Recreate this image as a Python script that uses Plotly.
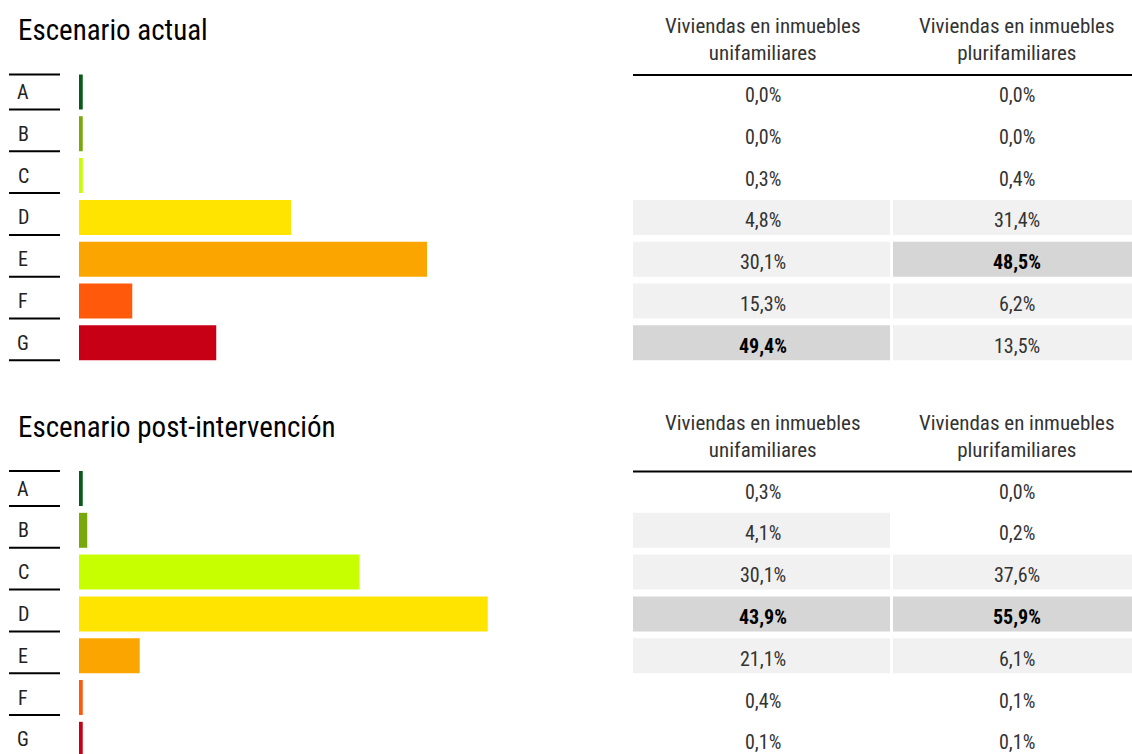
import plotly.graph_objects as go

W, H = 1132, 754
OFF = 0  # body margin removed by post_script below
FONT = "Liberation Sans Narrow, Roboto Condensed, Arial Narrow, Liberation Sans, sans-serif"

# ---------------- data ----------------
cats = ["A", "B", "C", "D", "E", "F", "G"]
bar_colors = ["#0b5a1c", "#79a80d", "#c8ff00", "#ffe400", "#fba600", "#ff5a0c", "#c80016"]

# bar lengths (share of dwellings, %)
actual_total = [0.5, 0.5, 0.5, 28.3, 46.4, 7.1, 18.3]
post_total = [0.5, 1.1, 37.4, 54.5, 8.1, 0.5, 0.5]

# table values (%)
actual_uni = [0.0, 0.0, 0.3, 4.8, 30.1, 15.3, 49.4]
actual_pluri = [0.0, 0.0, 0.4, 31.4, 48.5, 6.2, 13.5]
post_uni = [0.3, 4.1, 30.1, 43.9, 21.1, 0.4, 0.1]
post_pluri = [0.0, 0.2, 37.6, 55.9, 6.1, 0.1, 0.1]

col_headers = ["Viviendas en inmuebles<br>unifamiliares",
               "Viviendas en inmuebles<br>plurifamiliares"]
titles = ["Escenario actual", "Escenario post-intervención"]

# ---------------- layout helpers (window pixels -> paper) ----------------
def fx(px):
    return (px - OFF) / W

def fy(py):
    return 1 - (py - OFF) / H

PITCH = 41.8          # px per row
BAR_W = 0.837         # bar thickness in category units
SHIFT = 396.5         # vertical offset of the second panel
TOP0 = 71.1           # top of first panel's category band
CELL_W = 257 / 260    # cell width in column units (leaves a small gap)
TABLE_UNIT = 260      # px per column unit
COL_TEXT_X = [0.5, 1.475]

def fmt(v):
    return f"{v:.1f}".replace(".", ",") + "%"

fig = go.Figure()

panels = [
    dict(total=actual_total, uni=actual_uni, pluri=actual_pluri, xa="x", ya="y", xt="x3", yt="y3"),
    dict(total=post_total, uni=post_uni, pluri=post_pluri, xa="x2", ya="y2", xt="x4", yt="y4"),
]

shapes = []
annotations = []

for i, p in enumerate(panels):
    # bars
    fig.add_trace(go.Bar(
        x=p["total"], y=cats, orientation="h", width=BAR_W,
        marker=dict(color=bar_colors, line=dict(width=0)),
        xaxis=p["xa"], yaxis=p["ya"], showlegend=False, hoverinfo="skip"))

    # table cells
    for c, vals in enumerate([p["uni"], p["pluri"]]):
        mx = max(vals)
        fills = []
        for k, v in enumerate(vals):
            if v == mx:
                fills.append("#d6d6d6")
                txt, col = "<b>" + fmt(v) + "</b>", "#000000"
            elif v >= 1:
                fills.append("#f1f1f1")
                txt, col = fmt(v), "#333333"
            else:
                fills.append("rgba(0,0,0,0)")
                txt, col = fmt(v), "#333333"
            annotations.append(dict(xref=p["xt"], yref=p["yt"], x=COL_TEXT_X[c], y=cats[k],
                                    text=txt, showarrow=False, xanchor="center",
                                    yanchor="middle", yshift=-3,
                                    font=dict(family=FONT, size=20, color=col)))
        fig.add_trace(go.Bar(
            x=[CELL_W] * len(cats), base=[c] * len(cats), y=cats, orientation="h",
            width=BAR_W, marker=dict(color=fills, line=dict(width=0)),
            xaxis=p["xt"], yaxis=p["yt"], showlegend=False, hoverinfo="skip"))

    yref = p["ya"]
    # left label rules
    positions = [-BAR_W / 2] + [k + BAR_W / 2 for k in range(len(cats))]
    for pos in positions:
        shapes.append(dict(type="line", xref="paper", yref=yref,
                           x0=fx(9), x1=fx(60), y0=pos, y1=pos,
                           line=dict(color="#000000", width=2)))
    for k, cat in enumerate(cats):
        annotations.append(dict(xref="paper", yref=yref, x=fx(23), y=k, text=cat,
                                showarrow=False, xanchor="center", yanchor="middle",
                                font=dict(family=FONT, size=20, color="#222222")))

    off = i * SHIFT
    # title
    annotations.append(dict(xref="paper", yref="paper", x=fx(16), y=fy(30 + off),
                            text=titles[i], showarrow=False, xanchor="left", yanchor="middle",
                            font=dict(family=FONT, size=29, color="#000000")))
    # headers
    for c, htxt in enumerate(col_headers):
        annotations.append(dict(xref="paper", yref="paper", x=fx(633 + TABLE_UNIT * COL_TEXT_X[c]),
                                y=fy(39.5 + off), text=htxt, showarrow=False,
                                xanchor="center", yanchor="middle",
                                font=dict(family=FONT, size=21, color="#333333")))
    shapes.append(dict(type="line", xref="paper", yref="paper",
                       x0=fx(633), x1=1, y0=fy(75 + off), y1=fy(75 + off),
                       line=dict(color="#000000", width=2)))

# axes
top_dom = [fy(TOP0 + 7 * PITCH), fy(TOP0)]
bot_top_px = TOP0 + SHIFT
bot_span_units = (H + OFF - bot_top_px) / PITCH
bot_dom = [0, fy(bot_top_px)]

bar_x = dict(domain=[fx(79), fx(604)], range=[0, 70], visible=False, fixedrange=True)
tab_x = dict(domain=[fx(633), 1], range=[0, (W + OFF - 633) / TABLE_UNIT], visible=False, fixedrange=True)

def yax(dom, rng, anchor):
    return dict(domain=dom, range=rng, type="category", categoryorder="array",
                categoryarray=cats, visible=False, fixedrange=True, anchor=anchor)

fig.update_layout(
    width=W, height=H,
    margin=dict(l=0, r=0, t=0, b=0),
    paper_bgcolor="white", plot_bgcolor="white",
    barmode="overlay",
    hovermode=False,
    font=dict(family=FONT),
    xaxis=dict(bar_x, anchor="y"),
    yaxis=yax(top_dom, [6.5, -0.5], "x"),
    xaxis2=dict(bar_x, anchor="y2"),
    yaxis2=yax(bot_dom, [-0.5 + bot_span_units, -0.5], "x2"),
    xaxis3=dict(tab_x, anchor="y3"),
    yaxis3=yax(top_dom, [6.5, -0.5], "x3"),
    xaxis4=dict(tab_x, anchor="y4"),
    yaxis4=yax(bot_dom, [-0.5 + bot_span_units, -0.5], "x4"),
    shapes=shapes,
    annotations=annotations,
)

fig.write_html(
    "out.html",
    config={"displayModeBar": False, "staticPlot": True},
    post_script="document.body.style.margin='0';document.body.style.overflow='hidden';",
)
